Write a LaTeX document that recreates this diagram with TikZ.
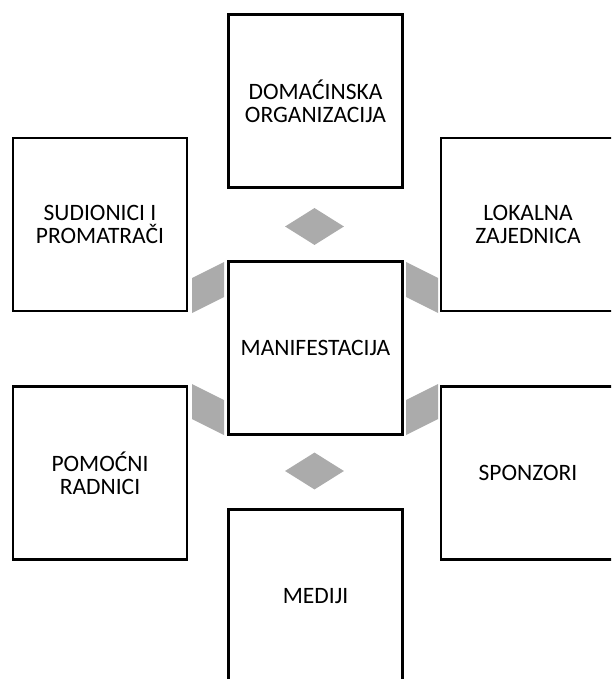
\documentclass[tikz,border=0pt]{standalone}
\usepackage{fontspec}
\setmainfont{Carlito}
\usetikzlibrary{shapes.geometric}
\definecolor{conn}{RGB}{171,171,171}
\tikzset{
  box/.style={draw=black, line width=2.4pt, fill=white, minimum width=174pt, minimum height=173pt, inner sep=0pt, align=center, font=\fontsize{23.5}{23}\selectfont},
  gem/.style={diamond, fill=conn, draw=none, minimum width=59pt, minimum height=37pt, inner sep=0pt, aspect=1.6},
  slab/.style={fill=conn, draw=none}
}
\begin{document}
\begin{tikzpicture}[x=1pt,y=-1pt]
\useasboundingbox (0,0) rectangle (611,679);
\clip (0,0) rectangle (611,679);
% boxes
\node[box] (host) at (315.5,101) {DOMAĆINSKA\\ORGANIZACIJA};
\node[box] (part) at (100,224.5) {SUDIONICI I\\PROMATRAČI};
\node[box] (local) at (528,224.5) {LOKALNA\\ZAJEDNICA};
\node[box] (event) at (315.5,348) {MANIFESTACIJA};
\node[box] (aux) at (100,473) {POMOĆNI\\RADNICI};
\node[box] (spons) at (528,473) {SPONZORI};
\node[box] (media) at (315.5,596) {MEDIJI};
% diamond connectors
\node[gem] (d1) at (314.5,226.5) {};
\node[gem] (d2) at (314.5,471) {};
% slanted connectors
\fill[slab] (192,278) -- (224,262) -- (224,297) -- (192,313) -- cycle;
\fill[slab] (406,262) -- (438,278) -- (438,313) -- (406,297) -- cycle;
\fill[slab] (192,384) -- (224,400) -- (224,435) -- (192,419) -- cycle;
\fill[slab] (406,400) -- (438,384) -- (438,419) -- (406,435) -- cycle;
\end{tikzpicture}
\end{document}
